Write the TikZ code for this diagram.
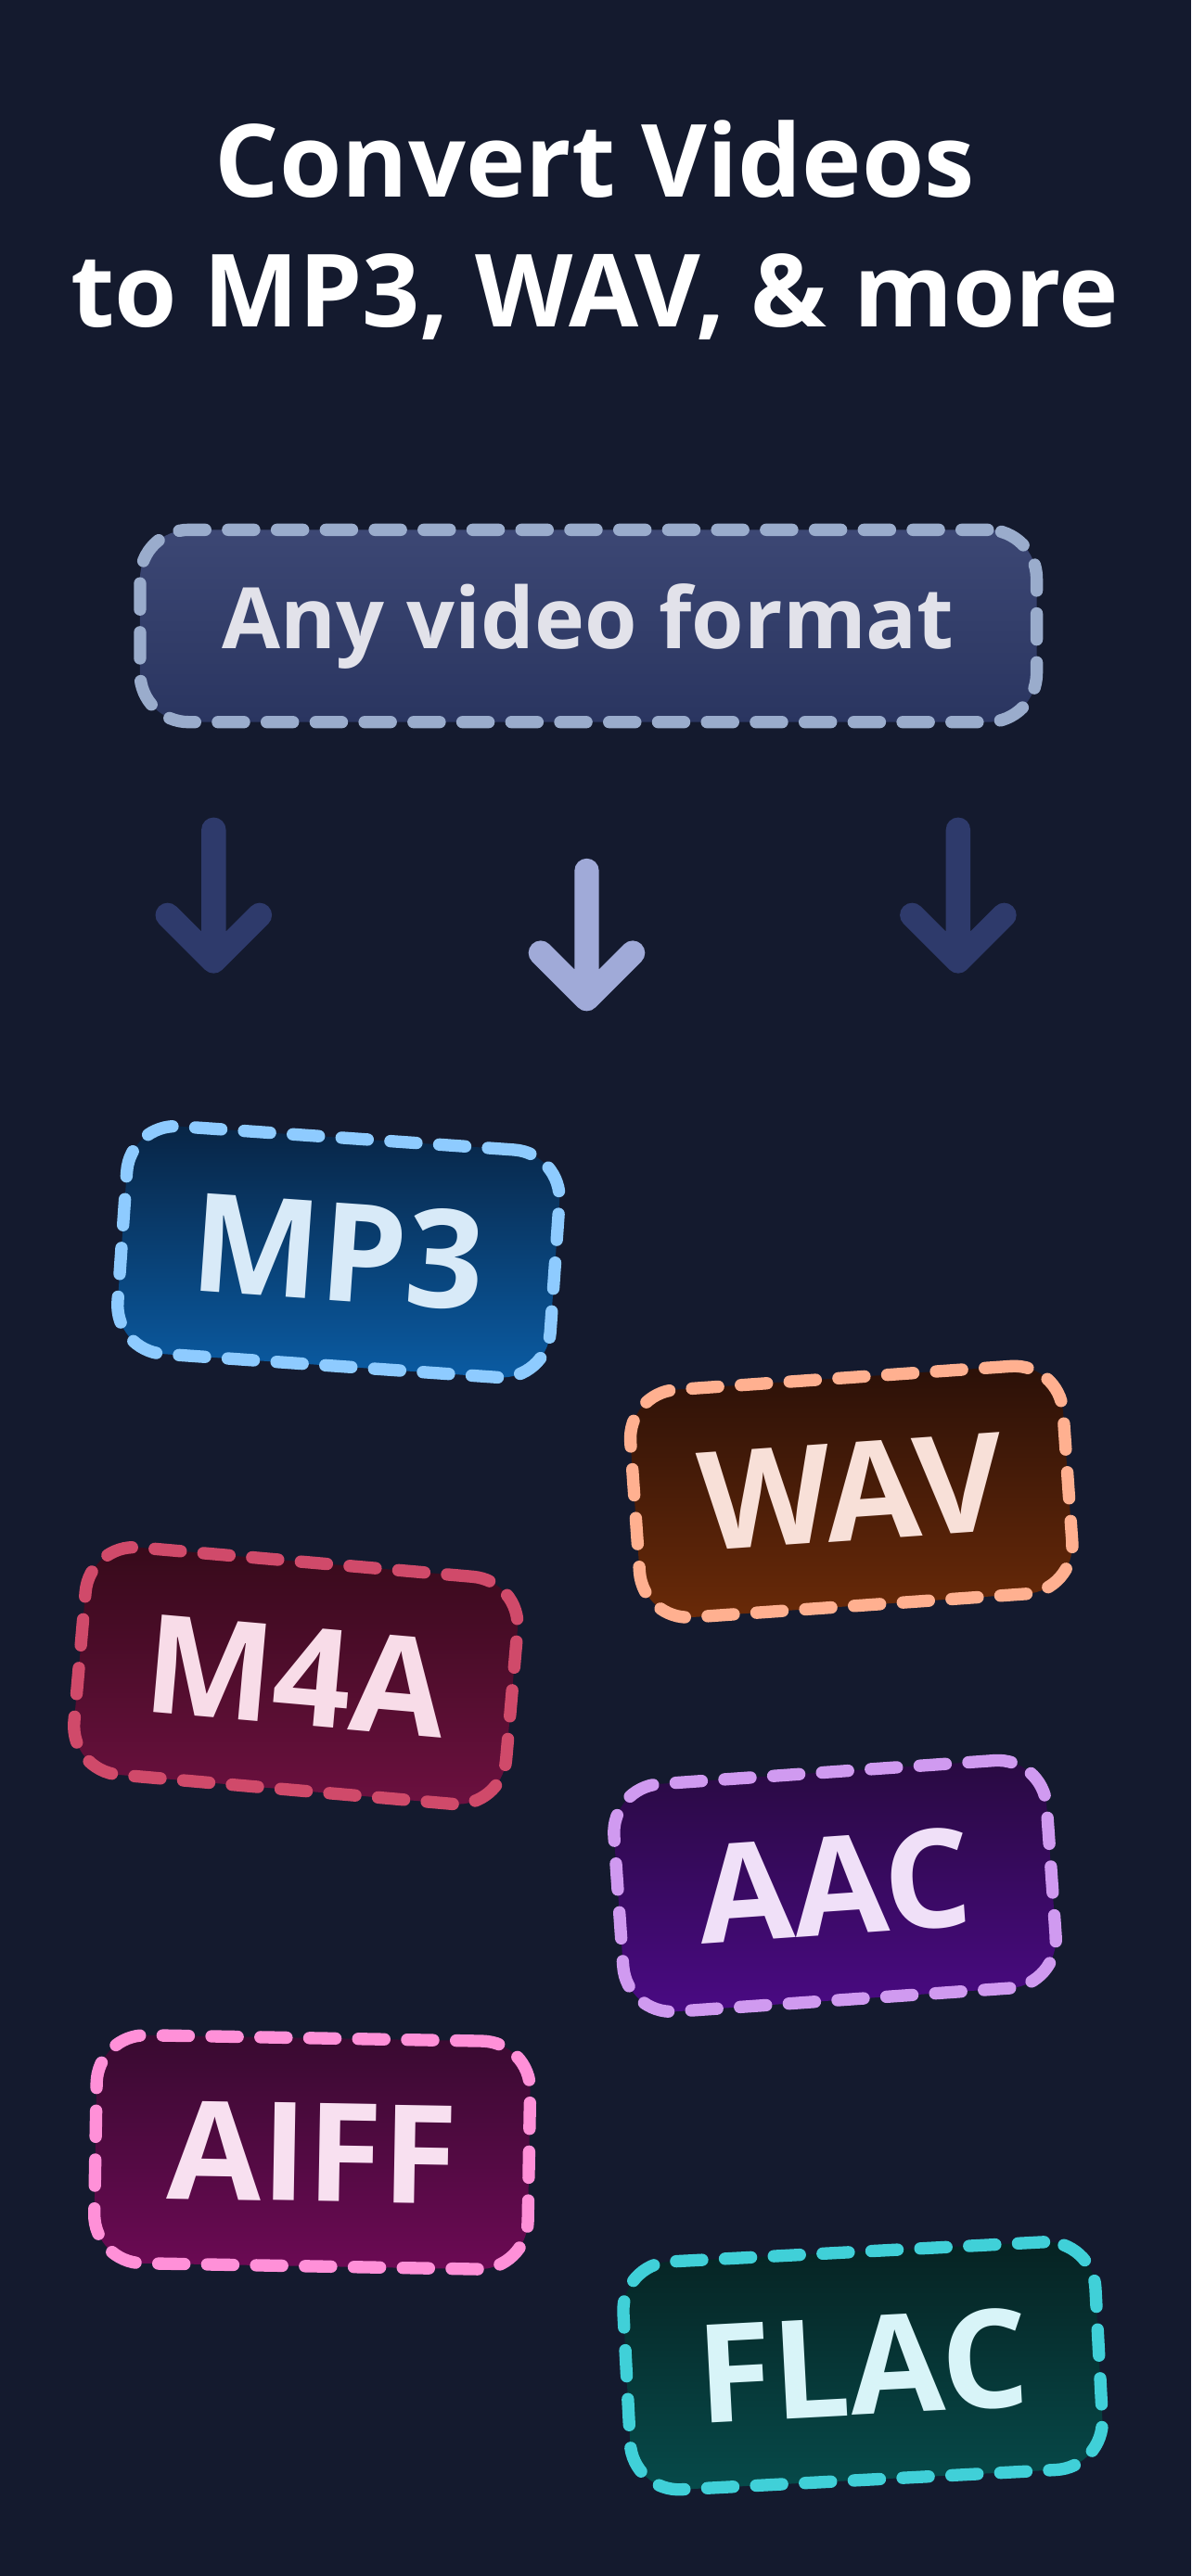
\documentclass[tikz,border=0pt]{standalone}
\usepackage{fontspec}
\setmainfont{Open Sans}
\usetikzlibrary{positioning}
\definecolor{bgnavy}{HTML}{141A2E}
\definecolor{srctop}{HTML}{3C4774}\definecolor{srcbot}{HTML}{2A3560}
\definecolor{srcline}{HTML}{9AACCC}\definecolor{srctext}{HTML}{E2E2EA}
\definecolor{arrdark}{HTML}{2E3A6B}\definecolor{arrlight}{HTML}{A0AAD8}
\definecolor{mpTop}{HTML}{082444}\definecolor{mpBot}{HTML}{0A5CA4}\definecolor{mpLine}{HTML}{8ECBFF}\definecolor{mpText}{HTML}{D8EAF8}
\definecolor{wvTop}{HTML}{2A1008}\definecolor{wvBot}{HTML}{6A2A08}\definecolor{wvLine}{HTML}{FFB090}\definecolor{wvText}{HTML}{F8E0D8}
\definecolor{maTop}{HTML}{360A1A}\definecolor{maBot}{HTML}{6C1040}\definecolor{maLine}{HTML}{D04A6A}\definecolor{maText}{HTML}{F8DCE8}
\definecolor{acTop}{HTML}{280A40}\definecolor{acBot}{HTML}{4A0A84}\definecolor{acLine}{HTML}{D09AF0}\definecolor{acText}{HTML}{F0E0F8}
\definecolor{aiTop}{HTML}{380A30}\definecolor{aiBot}{HTML}{6C0A54}\definecolor{aiLine}{HTML}{FF90D8}\definecolor{aiText}{HTML}{F8E0F0}
\definecolor{flTop}{HTML}{062222}\definecolor{flBot}{HTML}{064A4A}\definecolor{flLine}{HTML}{40D0D8}\definecolor{flText}{HTML}{D8F4F8}
\tikzset{
  fmtbox/.style={rectangle, rounded corners=15pt, line width=3.8pt,
    dash pattern=on 8pt off 7pt, line cap=round, shading=axis,
    minimum width=133pt, minimum height=70pt, inner sep=0pt,
    font=\fontsize{42}{44}\selectfont\bfseries},
  downarrow/.style={line width=7.5pt, line cap=round, line join=round}
}
\begin{document}
\begin{tikzpicture}[x=0.01771cm,y=-0.01771cm]
\fill[bgnavy] (0,0) rectangle (725,1568);
\useasboundingbox (0,0) rectangle (725,1568);
% title
\node (title) [white, align=center, font=\fontsize{31}{40}\selectfont\bfseries] at (362,140)
  {Convert Videos\\to MP3, WAV, \& more};
% source
\node (source) [fmtbox, minimum width=275pt, minimum height=59pt,
  top color=srctop, bottom color=srcbot, draw=srcline,
  text=srctext, font=\fontsize{26}{28}\selectfont\bfseries] at (358,381) {Any video format};
% arrows
\coordinate (aL1) at (130,505); \coordinate (aL2) at (130,585);
\coordinate (aM1) at (357,530); \coordinate (aM2) at (357,608);
\coordinate (aR1) at (583,505); \coordinate (aR2) at (583,585);
\draw[downarrow, arrdark] (aL1) -- (aL2) (102,557) -- (aL2) -- (158,557);
\draw[downarrow, arrlight] (aM1) -- (aM2) (329,580) -- (aM2) -- (385,580);
\draw[downarrow, arrdark] (aR1) -- (aR2) (555,557) -- (aR2) -- (611,557);
% formats
\node (mp3) [fmtbox, rotate=-4, top color=mpTop, bottom color=mpBot,
  draw=mpLine, text=mpText] at (206,762) {MP3};
\node (wav) [fmtbox, rotate=4, top color=wvTop, bottom color=wvBot,
  draw=wvLine, text=wvText] at (518,908) {WAV};
\node (m4a) [fmtbox, rotate=-5, top color=maTop, bottom color=maBot,
  draw=maLine, text=maText] at (180,1020) {M4A};
\node (aac) [fmtbox, rotate=4, top color=acTop, bottom color=acBot,
  draw=acLine, text=acText] at (508,1148) {AAC};
\node (aiff) [fmtbox, rotate=-1, top color=aiTop, bottom color=aiBot,
  draw=aiLine, text=aiText] at (190,1310) {AIFF};
\node (flac) [fmtbox, minimum width=145pt, rotate=3, top color=flTop, bottom color=flBot,
  draw=flLine, text=flText] at (525,1440) {FLAC};
\end{tikzpicture}
\end{document}
